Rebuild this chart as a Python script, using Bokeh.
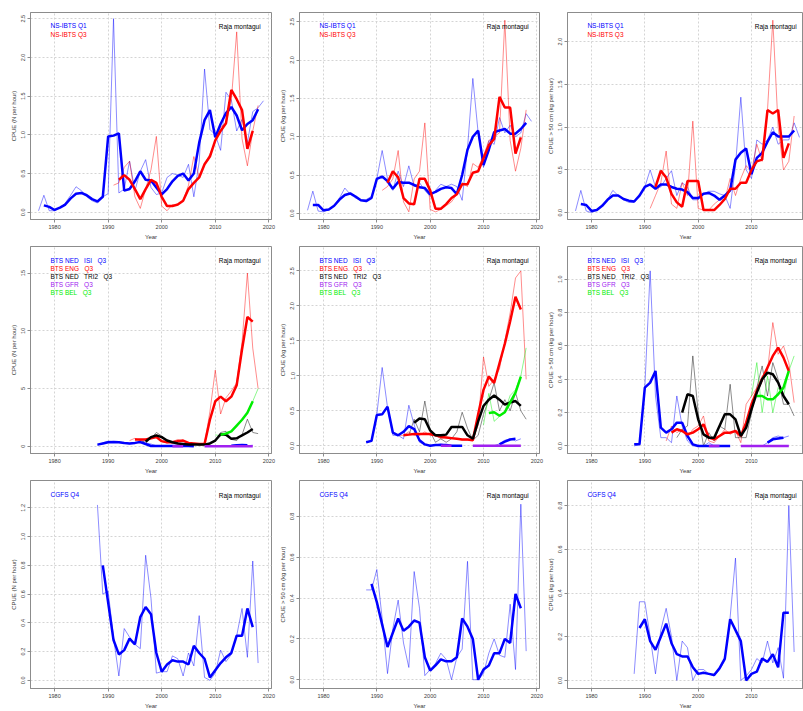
from bokeh.plotting import figure
from bokeh.layouts import row, column
from bokeh.models import Range1d, FixedTicker, PrintfTickFormatter, Label
from bokeh.embed import file_html
from bokeh.resources import INLINE

# ---------------- data ----------------
YEAR_TICKS = [1980, 1990, 2000, 2010, 2020]

# Row 1: NS-IBTS Q1 (blue) and Q3 (red)
q1_n_raw = [0.02, 0.22, 0.02, 0.02, 0.06, 0.12, 0.22, 0.33, 0.28, 0.2,
            0.15, 0.12, 0.2, 0.24, 2.5, 0.25, 0.3, 0.66, 0.28, 0.53,
            0.68, 0.32, 0.23, 0.25, 0.45, 0.5, 0.48, 0.45, 0.62, 0.2,
            0.65, 1.85, 1.07, 1.0, 0.8, 1.55, 1.45, 1.05, 1.2, 0.9,
            1.3, 1.35, 1.44]                      # 1977-2019
q1_n_smooth = [0.09, 0.07, 0.03, 0.06, 0.1, 0.18, 0.24, 0.25, 0.22, 0.17,
               0.14, 0.2, 0.98, 0.99, 1.02, 0.28, 0.3, 0.4, 0.53, 0.42,
               0.41, 0.32, 0.23, 0.3, 0.4, 0.47, 0.5, 0.41, 0.5, 0.9,
               1.19, 1.32, 0.97, 1.14, 1.28, 1.36, 1.25, 1.06, 1.14, 1.19,
               1.33]                               # 1978-2018
q3_n_raw = [0.35, 0.38, 0.58, 0.66, 0.2, 0.05, 0.3, 0.55, 0.98, 0.08,
            0.02, 0.1, 0.1, 0.15, 0.35, 0.72, 0.45, 0.62, 0.75, 0.92,
            1.1, 1.15, 1.45, 2.33, 0.95, 0.6, 1.05, 1.38]   # 1991-2018
q3_n_smooth = [0.42, 0.48, 0.42, 0.3, 0.17, 0.3, 0.42, 0.38, 0.2, 0.08,
               0.08, 0.1, 0.15, 0.3, 0.38, 0.45, 0.62, 0.72, 0.93, 1.05,
               1.15, 1.58, 1.46, 1.32, 0.82, 1.05]           # 1992-2017

q1_kg_raw = [0.04, 0.29, 0.03, 0.02, 0.05, 0.1, 0.2, 0.33, 0.25, 0.2,
             0.17, 0.18, 0.22, 0.45, 0.82, 0.45, 0.3, 0.55, 0.35, 0.62,
             0.35, 0.4, 0.3, 0.22, 0.3, 0.38, 0.35, 0.38, 0.35, 0.17,
             0.85, 1.76, 1.05, 0.6, 0.95, 0.9, 1.25, 1.05, 1.15, 1.0,
             1.05, 1.3, 1.2]                       # 1977-2019
q1_kg_smooth = [0.11, 0.11, 0.04, 0.05, 0.1, 0.18, 0.24, 0.26, 0.22, 0.17,
                0.16, 0.2, 0.45, 0.48, 0.42, 0.32, 0.41, 0.4, 0.4, 0.37,
                0.34, 0.33, 0.25, 0.28, 0.32, 0.34, 0.33, 0.25, 0.5, 0.83,
                1.0, 1.08, 0.63, 0.83, 1.06, 1.08, 1.1, 1.04, 1.04, 1.1,
                1.18]                              # 1978-2018
q3_kg_raw = [0.3, 0.35, 0.45, 0.82, 0.15, 0.02, 0.45, 0.55, 1.18, 0.05,
             0.02, 0.05, 0.1, 0.15, 0.25, 0.4, 0.35, 0.65, 0.6, 0.75,
             0.95, 1.0, 1.05, 2.52, 0.95, 0.55, 0.85, 1.35]  # 1991-2018
q3_kg_smooth = [0.4, 0.55, 0.47, 0.2, 0.13, 0.12, 0.45, 0.45, 0.3, 0.06,
                0.06, 0.12, 0.2, 0.25, 0.38, 0.38, 0.53, 0.55, 0.72, 0.89,
                0.97, 1.52, 1.38, 1.38, 0.78, 0.99]          # 1992-2017

q1_big_raw = [0.02, 0.26, 0.02, 0.0, 0.03, 0.08, 0.15, 0.26, 0.2, 0.15,
              0.12, 0.12, 0.2, 0.3, 0.5, 0.3, 0.3, 0.4, 0.49, 0.2,
              0.35, 0.3, 0.15, 0.15, 0.22, 0.25, 0.25, 0.22, 0.2, 0.05,
              0.55, 1.35, 0.5, 0.4, 0.85, 0.8, 0.85, 1.0, 0.8, 0.85,
              0.85, 1.05, 0.88]                    # 1977-2019
q1_big_smooth = [0.1, 0.09, 0.02, 0.03, 0.08, 0.15, 0.2, 0.2, 0.16, 0.14,
                 0.13, 0.2, 0.3, 0.33, 0.28, 0.33, 0.33, 0.3, 0.28, 0.27,
                 0.24, 0.17, 0.17, 0.22, 0.23, 0.2, 0.15, 0.2, 0.26, 0.62,
                 0.7, 0.75, 0.45, 0.64, 0.7, 0.83, 0.94, 0.89, 0.89, 0.89,
                 0.96]                             # 1978-2018
q3_big_raw = [0.05, 0.2, 0.35, 0.72, 0.1, 0.05, 0.35, 0.2, 1.07, 0.05,
              0.03, 0.03, 0.1, 0.15, 0.15, 0.4, 0.2, 0.4, 0.55, 0.48,
              0.8, 0.6, 1.2, 2.25, 1.0, 0.5, 0.6, 1.13]     # 1991-2018
q3_big_smooth = [0.3, 0.49, 0.41, 0.22, 0.12, 0.07, 0.37, 0.37, 0.37, 0.03,
                 0.03, 0.03, 0.09, 0.16, 0.28, 0.28, 0.35, 0.35, 0.5, 0.6,
                 0.62, 1.2, 1.16, 1.2, 0.64, 0.81]           # 1992-2017

# Row 2: BTS Q3 surveys
isi_n_raw_a = [0.1, 0.3, 0.45, 0.4, 0.4, 0.3, 0.2, 0.2, 0.5, 0.3,
               0.2, 0.05, 0.0, 0.05, 0.0, 0.02, 0.02, 0.0, 0.0]   # 1988-2006
isi_n_smooth_a = [0.15, 0.25, 0.35, 0.38, 0.35, 0.28, 0.25, 0.3, 0.37, 0.2,
                  0.03, 0.02, 0.02, 0.02, 0.02, 0.02, 0.02, 0.02, 0.0]
isi_n_raw_b = [0.0, 0.05, 0.12, 0.15, 0.05, 0.1]                 # 2012-2017
isi_n_smooth_b = [0.06, 0.1, 0.11, 0.1]                          # 2013-2016
eng_n_raw = [0.5, 0.7, 0.5, 0.6, 0.7, 1.0, 0.4, 0.3, 0.4, 0.6,
             0.45, 0.3, 0.2, 0.25, 0.2, 3.0, 6.6, 2.8, 4.2, 4.8,
             5.5, 9.0, 15.0, 8.5, 5.0]                            # 1994-2018
eng_n_smooth = [0.6, 0.6, 0.6, 0.7, 0.8, 0.45, 0.35, 0.35, 0.45, 0.5,
                0.3, 0.25, 0.2, 0.2, 2.3, 3.9, 4.3, 3.9, 4.3, 5.3,
                8.4, 11.2, 10.8]                                  # 1995-2017
tri_n_raw = [0.3, 0.5, 0.7, 1.2, 0.9, 0.4, 0.3, 0.3, 0.15, 0.1,
             0.2, 0.1, 0.15, 0.2, 0.5, 1.2, 1.3, 0.6, 0.5, 1.0,
             2.35, 1.2, 1.1]                                      # 1996-2018
tri_n_smooth = [0.4, 0.8, 0.95, 0.8, 0.5, 0.35, 0.25, 0.2, 0.15, 0.15,
                0.15, 0.15, 0.25, 0.5, 1.05, 1.0, 0.65, 0.7, 0.95, 1.2,
                1.5]                                              # 1997-2017
gfr_n_a = [0.0, 0.0, 0.0]                                         # 2002-2004
gfr_n_b = [0.0, 0.0, 0.0, 0.0, 0.0, 0.0, 0.0, 0.0, 0.0, 0.0]      # 2008-2017
bel_n_raw = [1.0, 0.9, 1.2, 1.3, 1.7, 2.3, 2.9, 3.9, 5.0]         # 2010-2018
bel_n_smooth = [1.0, 1.1, 1.3, 1.8, 2.3, 2.9, 3.9]                # 2011-2017

isi_kg_raw_a = [0.05, 0.08, 0.45, 1.12, 0.55, 0.15, 0.15, 0.1, 0.58, 0.3,
                0.05, 0.02, 0.0, 0.01, 0.03, 0.01, 0.0, 0.0, 0.0]
isi_kg_smooth_a = [0.05, 0.07, 0.44, 0.45, 0.56, 0.19, 0.15, 0.2, 0.28, 0.24,
                   0.08, 0.02, 0.0, 0.01, 0.01, 0.01, 0.0, 0.0, 0.0]
isi_kg_raw_b = [0.0, 0.03, 0.08, 0.1, 0.07, 0.1]
isi_kg_smooth_b = [0.02, 0.06, 0.09, 0.1]
eng_kg_raw = [0.15, 0.15, 0.2, 0.15, 0.15, 0.2, 0.15, 0.15, 0.1, 0.12,
              0.1, 0.1, 0.08, 0.08, 0.08, 0.3, 1.27, 0.85, 0.95, 1.1,
              1.5, 1.9, 2.4, 2.5, 0.95]
eng_kg_smooth = [0.15, 0.16, 0.17, 0.17, 0.17, 0.17, 0.15, 0.13, 0.12, 0.11,
                 0.1, 0.09, 0.09, 0.08, 0.45, 0.8, 0.99, 0.9, 1.18, 1.46,
                 1.78, 2.13, 1.95]
tri_kg_raw = [0.15, 0.38, 0.2, 0.64, 0.2, 0.05, 0.1, 0.05, 0.1, 0.2,
              0.48, 0.25, 0.08, 0.15, 0.45, 0.66, 0.9, 0.5, 0.66, 0.5,
              0.76, 0.5, 0.38]
tri_kg_smooth = [0.33, 0.39, 0.38, 0.22, 0.15, 0.15, 0.16, 0.27, 0.27, 0.27,
                 0.15, 0.1, 0.35, 0.57, 0.66, 0.72, 0.66, 0.59, 0.62, 0.64,
                 0.57]
gfr_kg_a = [0.0, 0.0, 0.0]
gfr_kg_b = [0.0, 0.0, 0.0, 0.0, 0.0, 0.0, 0.0, 0.0, 0.0, 0.0]
bel_kg_raw = [0.3, 0.75, 0.35, 0.42, 0.5, 0.72, 0.8, 1.0, 1.4]
bel_kg_smooth = [0.47, 0.48, 0.43, 0.48, 0.62, 0.76, 0.99]

isi_big_raw_a = [0.0, 0.01, 0.35, 1.05, 0.3, 0.05, 0.05, 0.02, 0.3, 0.12,
                 0.03, 0.0, 0.0, 0.0, 0.02, 0.0, 0.0, 0.0, 0.0]
isi_big_smooth_a = [0.01, 0.01, 0.35, 0.38, 0.45, 0.11, 0.08, 0.1, 0.14, 0.14,
                    0.06, 0.01, 0.0, 0.0, 0.0, 0.0, 0.0, 0.0, 0.0]
isi_big_raw_b = [0.0, 0.02, 0.05, 0.06, 0.05, 0.06]
isi_big_smooth_b = [0.02, 0.04, 0.045, 0.05]
eng_big_raw = [0.03, 0.12, 0.08, 0.1, 0.05, 0.1, 0.12, 0.18, 0.03, 0.02,
               0.06, 0.1, 0.07, 0.09, 0.02, 0.25, 0.3, 0.35, 0.42, 0.45,
               0.74, 0.55, 0.6, 0.5, 0.26]
eng_big_smooth = [0.08, 0.1, 0.09, 0.07, 0.08, 0.1, 0.13, 0.05, 0.04, 0.06,
                  0.08, 0.08, 0.09, 0.06, 0.14, 0.25, 0.33, 0.4, 0.47, 0.54,
                  0.59, 0.53, 0.45]
tri_big_raw = [0.05, 0.1, 0.12, 0.54, 0.2, 0.0, 0.08, 0.03, 0.12, 0.1,
               0.37, 0.05, 0.05, 0.05, 0.2, 0.35, 0.48, 0.3, 0.5, 0.4,
               0.25, 0.25, 0.18]
tri_big_smooth = [0.2, 0.31, 0.3, 0.16, 0.07, 0.05, 0.05, 0.12, 0.19, 0.19,
                  0.16, 0.06, 0.11, 0.22, 0.32, 0.4, 0.44, 0.43, 0.38, 0.3,
                  0.25]
gfr_big_a = [0.0, 0.0, 0.0]
gfr_big_b = [0.0, 0.0, 0.0, 0.0, 0.0, 0.0, 0.0, 0.0, 0.0, 0.0]
bel_big_raw = [0.3, 0.5, 0.2, 0.42, 0.2, 0.35, 0.3, 0.45, 0.54]
bel_big_smooth = [0.3, 0.3, 0.28, 0.28, 0.31, 0.35, 0.45]

# Row 3: CGFS Q4
cgfs_n_raw = [1.22, 0.6, 0.62, 0.3, 0.03, 0.36, 0.3, 0.25, 0.22, 0.87,
              0.57, 0.05, 0.06, 0.06, 0.17, 0.15, 0.03, 0.19, 0.1, 0.45,
              0.02, 0.0, 0.05, 0.21, 0.13, 0.18, 0.31, 0.5, 0.16, 0.83,
              0.12]                                # 1988-2018
cgfs_n_smooth = [0.8, 0.54, 0.28, 0.18, 0.21, 0.29, 0.25, 0.44, 0.51, 0.46,
                 0.19, 0.06, 0.11, 0.14, 0.13, 0.13, 0.11, 0.24, 0.19, 0.15,
                 0.02, 0.07, 0.12, 0.16, 0.19, 0.31, 0.31, 0.5, 0.37]   # 1989-2017
cgfs_big_raw = [0.44, 0.44, 0.54, 0.3, 0.03, 0.25, 0.39, 0.18, 0.06, 0.53,
                0.35, 0.02, 0.05, 0.08, 0.13, 0.1, 0.0, 0.11, 0.15, 0.58,
                0.0, 0.0, 0.03, 0.13, 0.2, 0.12, 0.11, 0.37, 0.05, 0.86,
                0.14]
cgfs_big_smooth = [0.47, 0.38, 0.27, 0.16, 0.23, 0.3, 0.24, 0.26, 0.29, 0.28,
                   0.11, 0.045, 0.07, 0.1, 0.09, 0.09, 0.11, 0.3, 0.26, 0.2,
                   0.0, 0.05, 0.07, 0.13, 0.13, 0.2, 0.18, 0.42, 0.35]
cgfs_kg_raw = [0.03, 0.36, 0.36, 0.2, 0.03, 0.23, 0.33, 0.2, 0.0, 0.18,
               0.15, 0.0, 0.05, 0.05, 0.03, 0.02, 0.05, 0.09, 0.29, 0.56,
               0.0, 0.02, 0.05, 0.1, 0.08, 0.18, 0.08, 0.15, 0.01, 0.8,
               0.13]
cgfs_kg_smooth = [0.24, 0.28, 0.18, 0.14, 0.2, 0.26, 0.17, 0.12, 0.11, 0.11,
                  0.06, 0.03, 0.035, 0.03, 0.025, 0.055, 0.1, 0.28, 0.23, 0.18,
                  0.0, 0.03, 0.04, 0.1, 0.085, 0.12, 0.06, 0.31, 0.31]

# ---------------- style / layout ----------------
FONT = "Liberation Sans"
GREY = "#8c8c8c"
TXT = "#3a3a3a"
BLUE, RED, BLACK, PURPLE, GREEN = "#0000ff", "#ff0000", "#000000", "#a020f0", "#00ee00"
X0 = 1975.5
PX_PER_YEAR = 241 / 45.0
COL_W = [276, 268, 259]
COL_BL = [30, 22, 22]
COL_BR = [5, 5, 0]
ROW_H = [242, 234, 235]
ROW_BT = [12, 4, 4]
ROW_BB = [20, 20, 21]
SP = "\u00a0\u00a0 "


def make_fig(r, c, ylab, y0, y1, yticks, yfmt):
    w = COL_W[c]
    frame_w = w - COL_BL[c] - COL_BR[c]
    p = figure(width=w, height=ROW_H[r], output_backend="svg", toolbar_location=None,
               x_range=Range1d(X0, X0 + frame_w / PX_PER_YEAR), y_range=Range1d(y0, y1),
               min_border_left=COL_BL[c], min_border_right=COL_BR[c],
               min_border_top=ROW_BT[r], min_border_bottom=ROW_BB[r])
    p.outline_line_color = GREY
    p.outline_line_width = 1
    p.background_fill_color = "white"
    p.border_fill_color = "white"
    p.xaxis.ticker = FixedTicker(ticks=YEAR_TICKS)
    p.yaxis.ticker = FixedTicker(ticks=yticks)
    p.yaxis.formatter = PrintfTickFormatter(format=yfmt)
    p.xaxis.axis_label = "Year"
    p.yaxis.axis_label = ylab
    for ax in (p.xaxis[0], p.yaxis[0]):
        ax.axis_line_color = GREY
        ax.major_tick_line_color = GREY
        ax.major_tick_in = 0
        ax.major_tick_out = 3
        ax.minor_tick_line_color = None
        ax.major_label_text_font = FONT
        ax.major_label_text_font_size = "5.5px"
        ax.major_label_text_color = TXT
        ax.major_label_standoff = 2
        ax.axis_label_text_font = FONT
        ax.axis_label_text_font_size = "6px"
        ax.axis_label_text_font_style = "normal"
        ax.axis_label_text_color = TXT
        ax.axis_label_standoff = 2
    p.yaxis.major_label_orientation = "vertical"
    p.xgrid.ticker = FixedTicker(ticks=YEAR_TICKS)
    p.ygrid.ticker = FixedTicker(ticks=yticks)
    p.grid.grid_line_color = "#d4d4d4"
    p.grid.grid_line_dash = "2 2"
    p.grid.grid_line_width = 1
    return p


def fx(frac):
    return X0 + frac * 45.0


def fy(p, frac):
    r = p.y_range
    return r.end - frac * (r.end - r.start)


def series(p, start, vals, color, thick):
    xs = list(range(start, start + len(vals)))
    if thick:
        p.line(xs, vals, line_color=color, line_width=2.5, line_alpha=1.0)
    else:
        p.line(xs, vals, line_color=color, line_width=1, line_alpha=0.45)


def add_text(p, frac_x, frac_y, text, color, align="left"):
    p.add_layout(Label(x=fx(frac_x), y=fy(p, frac_y), text=text, text_color=color,
                       text_font=FONT, text_font_size="6.5px", text_align=align,
                       text_baseline="middle"))


def legend(p, items, y_start, step):
    for i, (txt, c) in enumerate(items):
        add_text(p, 0.083, y_start + i * step, txt, c)
    add_text(p, 0.955, y_start + 0.004, "Raja montagui", "#000000", align="right")


fmt1 = "%.1f"
row1_specs = [
    ("CPUE (N per hour)", -0.093, 2.58, [0, 0.5, 1.0, 1.5, 2.0, 2.5],
     q1_n_raw, q1_n_smooth, q3_n_raw, q3_n_smooth),
    ("CPUE (kg per hour)", -0.08, 2.62, [0, 0.5, 1.0, 1.5, 2.0, 2.5],
     q1_kg_raw, q1_kg_smooth, q3_kg_raw, q3_kg_smooth),
    ("CPUE > 50 cm (kg per hour)", -0.08, 2.34, [0, 0.5, 1.0, 1.5, 2.0],
     q1_big_raw, q1_big_smooth, q3_big_raw, q3_big_smooth),
]
row1 = []
for c, (lab, y0, y1, yt, b_raw, b_sm, r_raw, r_sm) in enumerate(row1_specs):
    p = make_fig(0, c, lab, y0, y1, yt, fmt1)
    series(p, 1977, b_raw, BLUE, False)
    series(p, 1991, r_raw, RED, False)
    series(p, 1978, b_sm, BLUE, True)
    series(p, 1992, r_sm, RED, True)
    legend(p, [("NS-IBTS Q1", BLUE), ("NS-IBTS Q3", RED)], 0.065, 0.04)
    row1.append(p)

row2_specs = [
    ("CPUE (N per hour)", -0.62, 17.3, [0, 5, 10, 15], "%d",
     (isi_n_raw_a, isi_n_smooth_a, isi_n_raw_b, isi_n_smooth_b, eng_n_raw, eng_n_smooth,
      tri_n_raw, tri_n_smooth, gfr_n_a, gfr_n_b, bel_n_raw, bel_n_smooth)),
    ("CPUE (kg per hour)", -0.11, 2.85, [0, 0.5, 1.0, 1.5, 2.0, 2.5], fmt1,
     (isi_kg_raw_a, isi_kg_smooth_a, isi_kg_raw_b, isi_kg_smooth_b, eng_kg_raw, eng_kg_smooth,
      tri_kg_raw, tri_kg_smooth, gfr_kg_a, gfr_kg_b, bel_kg_raw, bel_kg_smooth)),
    ("CPUE > 50 cm (kg per hour)", -0.045, 1.196, [0, 0.2, 0.4, 0.6, 0.8, 1.0], fmt1,
     (isi_big_raw_a, isi_big_smooth_a, isi_big_raw_b, isi_big_smooth_b, eng_big_raw, eng_big_smooth,
      tri_big_raw, tri_big_smooth, gfr_big_a, gfr_big_b, bel_big_raw, bel_big_smooth)),
]
row2 = []
for c, (lab, y0, y1, yt, f, d) in enumerate(row2_specs):
    (ia, ias, ib, ibs, er, es, tr, ts, ga, gb, br_, bs) = d
    p = make_fig(1, c, lab, y0, y1, yt, f)
    series(p, 1988, ia, BLUE, False)
    series(p, 2012, ib, BLUE, False)
    series(p, 1994, er, RED, False)
    series(p, 1996, tr, BLACK, False)
    series(p, 2010, br_, GREEN, False)
    series(p, 1988, ias, BLUE, True)
    series(p, 2013, ibs, BLUE, True)
    series(p, 1995, es, RED, True)
    series(p, 1997, ts, BLACK, True)
    series(p, 2002, ga, PURPLE, True)
    series(p, 2008, gb, PURPLE, True)
    series(p, 2011, bs, GREEN, True)
    legend(p, [("BTS NED" + SP + "ISI" + SP + "Q3", BLUE), ("BTS ENG" + SP + "Q3", RED),
               ("BTS NED" + SP + "TRI2" + SP + "Q3", BLACK), ("BTS GFR" + SP + "Q3", PURPLE),
               ("BTS BEL" + SP + "Q3", GREEN)], 0.066, 0.039)
    row2.append(p)

row3_specs = [
    ("CPUE (N per hour)", -0.057, 1.39, [0, 0.2, 0.4, 0.6, 0.8, 1.0, 1.2],
     cgfs_n_raw, cgfs_n_smooth),
    ("CPUE > 50 cm (kg per hour)", -0.043, 0.976, [0, 0.2, 0.4, 0.6, 0.8],
     cgfs_big_raw, cgfs_big_smooth),
    ("CPUE (kg per hour)", -0.037, 0.915, [0, 0.2, 0.4, 0.6, 0.8],
     cgfs_kg_raw, cgfs_kg_smooth),
]
row3 = []
for c, (lab, y0, y1, yt, raw, sm) in enumerate(row3_specs):
    p = make_fig(2, c, lab, y0, y1, yt, fmt1)
    series(p, 1988, raw, BLUE, False)
    series(p, 1989, sm, BLUE, True)
    legend(p, [("CGFS Q4", BLUE)], 0.067, 0.04)
    row3.append(p)

layout = column(row(*row1), row(*row2), row(*row3))
open("out.html", "w").write(file_html(layout, INLINE))
